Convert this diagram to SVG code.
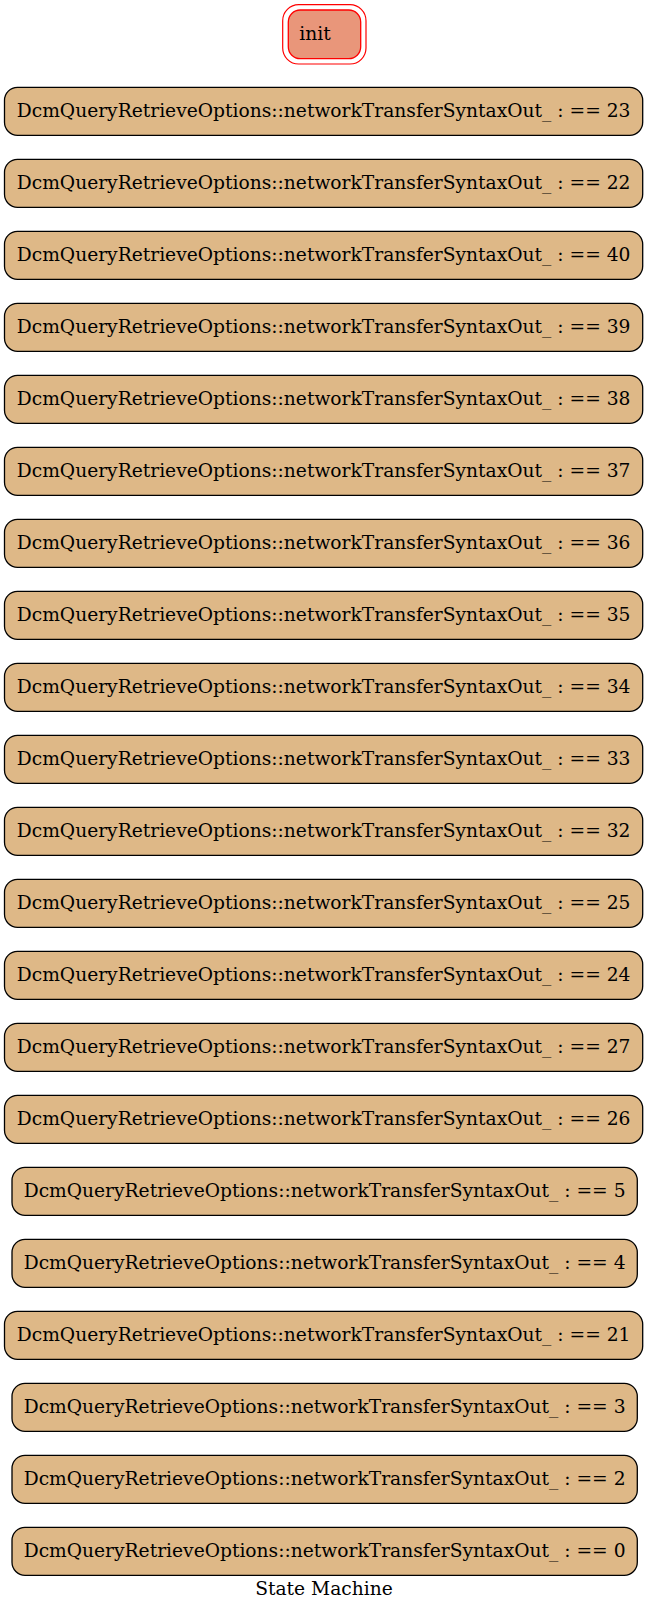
<svg xmlns="http://www.w3.org/2000/svg" width="649" height="1612" viewBox="0 0 649 1612">
<style>
.st rect{fill:#deb887;stroke:#000;stroke-width:1.3}
text{font-family:"DejaVu Serif",serif;font-size:18.67px;fill:#000}
.c{text-anchor:middle}
</style>
<rect width="649" height="1612" fill="#fff"/>
<g id="init">
<rect x="282.7" y="4.7" width="83.3" height="59.3" rx="16" fill="none" stroke="#f00" stroke-width="1.2"/>
<rect x="288.3" y="10" width="72.4" height="48.7" rx="12" fill="#e9967a" stroke="#f00" stroke-width="1.3"/>
<text x="299.3" y="40">init</text>
</g>
<g id="connectors"></g>
<g id="s23" class="st"><rect x="4.5" y="87.3" width="638.2" height="48" rx="13"/><text class="c" x="323.6" y="116.7">DcmQueryRetrieveOptions::networkTransferSyntaxOut_ : == 23</text></g>
<g id="s22" class="st"><rect x="4.5" y="159.3" width="638.2" height="48" rx="13"/><text class="c" x="323.6" y="188.7">DcmQueryRetrieveOptions::networkTransferSyntaxOut_ : == 22</text></g>
<g id="s40" class="st"><rect x="4.5" y="231.3" width="638.2" height="48" rx="13"/><text class="c" x="323.6" y="260.7">DcmQueryRetrieveOptions::networkTransferSyntaxOut_ : == 40</text></g>
<g id="s39" class="st"><rect x="4.5" y="303.3" width="638.2" height="48" rx="13"/><text class="c" x="323.6" y="332.7">DcmQueryRetrieveOptions::networkTransferSyntaxOut_ : == 39</text></g>
<g id="s38" class="st"><rect x="4.5" y="375.3" width="638.2" height="48" rx="13"/><text class="c" x="323.6" y="404.7">DcmQueryRetrieveOptions::networkTransferSyntaxOut_ : == 38</text></g>
<g id="s37" class="st"><rect x="4.5" y="447.3" width="638.2" height="48" rx="13"/><text class="c" x="323.6" y="476.7">DcmQueryRetrieveOptions::networkTransferSyntaxOut_ : == 37</text></g>
<g id="s36" class="st"><rect x="4.5" y="519.3" width="638.2" height="48" rx="13"/><text class="c" x="323.6" y="548.7">DcmQueryRetrieveOptions::networkTransferSyntaxOut_ : == 36</text></g>
<g id="s35" class="st"><rect x="4.5" y="591.3" width="638.2" height="48" rx="13"/><text class="c" x="323.6" y="620.7">DcmQueryRetrieveOptions::networkTransferSyntaxOut_ : == 35</text></g>
<g id="s34" class="st"><rect x="4.5" y="663.3" width="638.2" height="48" rx="13"/><text class="c" x="323.6" y="692.7">DcmQueryRetrieveOptions::networkTransferSyntaxOut_ : == 34</text></g>
<g id="s33" class="st"><rect x="4.5" y="735.3" width="638.2" height="48" rx="13"/><text class="c" x="323.6" y="764.7">DcmQueryRetrieveOptions::networkTransferSyntaxOut_ : == 33</text></g>
<g id="s32" class="st"><rect x="4.5" y="807.3" width="638.2" height="48" rx="13"/><text class="c" x="323.6" y="836.7">DcmQueryRetrieveOptions::networkTransferSyntaxOut_ : == 32</text></g>
<g id="s25" class="st"><rect x="4.5" y="879.3" width="638.2" height="48" rx="13"/><text class="c" x="323.6" y="908.7">DcmQueryRetrieveOptions::networkTransferSyntaxOut_ : == 25</text></g>
<g id="s24" class="st"><rect x="4.5" y="951.3" width="638.2" height="48" rx="13"/><text class="c" x="323.6" y="980.7">DcmQueryRetrieveOptions::networkTransferSyntaxOut_ : == 24</text></g>
<g id="s27" class="st"><rect x="4.5" y="1023.3" width="638.2" height="48" rx="13"/><text class="c" x="323.6" y="1052.7">DcmQueryRetrieveOptions::networkTransferSyntaxOut_ : == 27</text></g>
<g id="s26" class="st"><rect x="4.5" y="1095.3" width="638.2" height="48" rx="13"/><text class="c" x="323.6" y="1124.7">DcmQueryRetrieveOptions::networkTransferSyntaxOut_ : == 26</text></g>
<g id="s5" class="st"><rect x="12" y="1167.3" width="625.3" height="48" rx="13"/><text class="c" x="324.6" y="1196.7">DcmQueryRetrieveOptions::networkTransferSyntaxOut_ : == 5</text></g>
<g id="s4" class="st"><rect x="12" y="1239.3" width="625.3" height="48" rx="13"/><text class="c" x="324.6" y="1268.7">DcmQueryRetrieveOptions::networkTransferSyntaxOut_ : == 4</text></g>
<g id="s21" class="st"><rect x="4.5" y="1311.3" width="638.2" height="48" rx="13"/><text class="c" x="323.6" y="1340.7">DcmQueryRetrieveOptions::networkTransferSyntaxOut_ : == 21</text></g>
<g id="s3" class="st"><rect x="12" y="1383.3" width="625.3" height="48" rx="13"/><text class="c" x="324.6" y="1412.7">DcmQueryRetrieveOptions::networkTransferSyntaxOut_ : == 3</text></g>
<g id="s2" class="st"><rect x="12" y="1455.3" width="625.3" height="48" rx="13"/><text class="c" x="324.6" y="1484.7">DcmQueryRetrieveOptions::networkTransferSyntaxOut_ : == 2</text></g>
<g id="s0" class="st"><rect x="12" y="1527.3" width="625.3" height="48" rx="13"/><text class="c" x="324.6" y="1556.7">DcmQueryRetrieveOptions::networkTransferSyntaxOut_ : == 0</text></g>
<g id="label"><text class="c" x="324" y="1595">State Machine</text></g>
</svg>
